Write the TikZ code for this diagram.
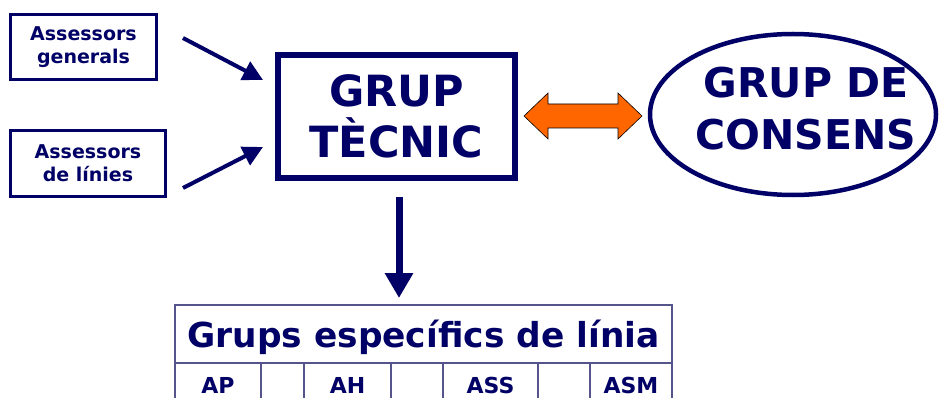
\documentclass[tikz,border=0pt]{standalone}
\usepackage{fontspec}
\setmainfont{DejaVu Sans}
\usetikzlibrary{arrows.meta,shapes.geometric}
\definecolor{navy}{RGB}{0,0,102}
\definecolor{tabline}{RGB}{85,85,140}
\definecolor{orng}{RGB}{255,102,0}
\begin{document}
\begin{tikzpicture}[x=1pt,y=-1pt,
  smallbox/.style={draw=navy,line width=3pt,inner sep=0pt,align=center,text=navy,
    font=\fontsize{19}{23}\selectfont\bfseries},
  bigtext/.style={text=navy,align=center,inner sep=0pt,font=\fontsize{43}{51}\selectfont\bfseries},
  celltext/.style={text=navy,inner sep=0pt,anchor=base,font=\fontsize{22}{26}\selectfont\bfseries},
  navyarrow/.style={draw=navy,line width=4pt,-{Triangle[length=20pt,width=20pt]}},
  tabrule/.style={draw=tabline,line width=1.5pt}]
\useasboundingbox[fill=white] (0,0) rectangle (941,398);

% small boxes
\node[smallbox,minimum width=146pt,minimum height=65pt] (gen) at (83.5,47) {Assessors\\generals};
\node[smallbox,minimum width=155pt,minimum height=66pt] (lin) at (88,163.5) {Assessors\\de línies};

% grup tecnic
\node[bigtext,draw=navy,line width=6pt,minimum width=237pt,minimum height=123pt] (tec) at (396.5,116.5) {GRUP\\TÈCNIC};

% grup de consens
\node[draw=navy,line width=4.5pt,ellipse,minimum width=286pt,minimum height=161pt,inner sep=0pt] (cons) at (793,114.5) {};
\node[bigtext,font=\fontsize{41}{52}\selectfont\bfseries] (constext) at (806,109) {GRUP DE\\CONSENS};

% arrows from assessors
\coordinate (g1) at (183,38);
\coordinate (g2) at (263,80);
\coordinate (l1) at (183,188);
\coordinate (l2) at (263,147);
\draw[navyarrow] (g1) -- (g2);
\draw[navyarrow] (l1) -- (l2);

% double orange arrow
\draw[fill=orng,draw=black,line width=0.6pt]
  (524,116) -- (548,93) -- (548,104) -- (618,104) -- (618,93) -- (642,116)
  -- (618,139) -- (618,128) -- (548,128) -- (548,139) -- cycle;

% down arrow
\coordinate (d1) at (399,197);
\coordinate (d2) at (399,298);
\draw[draw=navy,line width=7pt,-{Triangle[length=25pt,width=27pt]}] (d1) -- (d2);

% table
\node[celltext,font=\fontsize{34.4}{40}\selectfont\bfseries] (grups) at (423.5,347) {Grups específics de línia};
\draw[tabrule] (175,398) -- (175,305) -- (672,305) -- (672,398);
\draw[tabrule] (175,363) -- (672,363);
\foreach \xx in {261,304,391,443,538,590}{
  \draw[tabrule] (\xx,363) -- (\xx,398);
}
\node[celltext] (ap) at (218,393) {AP};
\node[celltext] (ah) at (347.5,393) {AH};
\node[celltext] (ass) at (490.5,393) {ASS};
\node[celltext] (asm) at (631,393) {ASM};
\end{tikzpicture}
\end{document}
